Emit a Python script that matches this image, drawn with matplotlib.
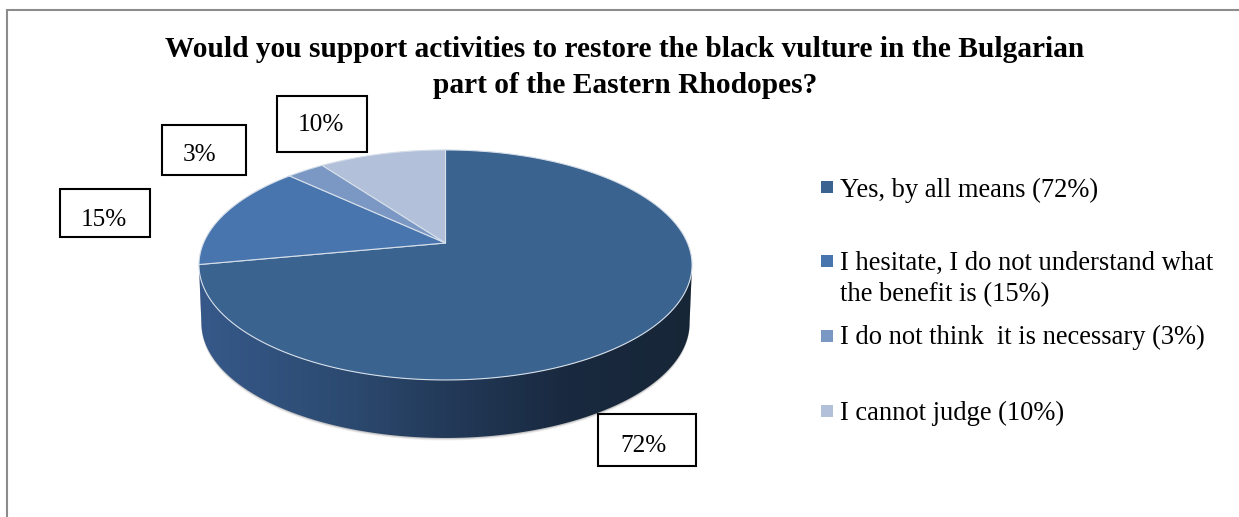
import numpy as np
import matplotlib
matplotlib.use("Agg")
import matplotlib.pyplot as plt
from matplotlib.colors import LinearSegmentedColormap
from matplotlib.patches import Polygon, Rectangle

plt.rcParams['font.family'] = ['Liberation Serif', 'DejaVu Serif']

title = ("Would you support activities to restore the black vulture in the Bulgarian\n"
         "part of the Eastern Rhodopes?")
shares = [72, 15, 3, 10]
slice_colors = ['#3A6390', '#4875AE', '#7B98C4', '#B2C1D9']
legend_labels = ["Yes, by all means (72%)",
                 "I hesitate, I do not understand what\nthe benefit is (15%)",
                 "I do not think  it is necessary (3%)",
                 "I cannot judge (10%)"]
value_labels = ["72%", "15%", "3%", "10%"]

W, H = 1239, 517
fig = plt.figure(figsize=(W / 100, H / 100), dpi=100)
ax = fig.add_axes([0, 0, 1, 1])
ax.set_xlim(0, W)
ax.set_ylim(H, 0)
ax.axis('off')

# Chart frame (open at the right and bottom edges of the canvas)
ax.plot([7, 7, W + 2], [H + 2, 10, 10], color='#8c8c8c', lw=1.5, solid_joinstyle='miter')

ax.text(625, 67.5, title, ha='center', va='center', fontsize=21.2, fontweight='bold',
        linespacing=1.44, color='black')

# Perspective tilt of the pie disc
CX, CY, R = 445.5, 243.0, 242.0
K, A = -0.191, 64.4
DEPTH = 58.0


def project(theta, dy=0.0, squeeze=1.0):
    """Map a clockwise-from-top angle on the disc to canvas coordinates."""
    v = -np.cos(theta)
    w = 1 + K * v
    return CX + squeeze * R * np.sin(theta) / w, (CY + A * v) / w + dy


def wedge(start, stop):
    t = np.linspace(start, stop, 200)
    x, y = project(t)
    return np.column_stack([np.r_[CX, x], np.r_[CY, y]])


fractions = np.cumsum([0] + shares) / sum(shares) * 2 * np.pi

# Outline of the rim's lower half, from the disc's right extreme to its left extreme
t_side = np.linspace(1.76, 4.52, 300)
tx, ty = project(t_side)
bx, by = project(t_side, dy=DEPTH, squeeze=0.99)
wall = np.column_stack([np.r_[tx, bx[::-1]], np.r_[ty, by[::-1]]])

# Soft shadow beneath the rim
for grow, alpha in zip([2.6, 1.8, 1.0], [0.10, 0.16, 0.28]):
    ax.add_patch(Polygon(np.column_stack([np.r_[tx, bx[::-1]],
                                          np.r_[ty, by[::-1] + grow]]),
                         closed=True, fc='#808080', ec='none', alpha=alpha, zorder=1))

# Rim shaded from mid blue on the left to near-black navy on the right
rim_cmap = LinearSegmentedColormap.from_list(
    'rim', [(0, '#36598A'), (0.3, '#2C4A70'), (0.5, '#233A59'),
            (0.75, '#19293F'), (1, '#172637')])
wall_patch = Polygon(wall, closed=True, fc='none', ec='none', zorder=2)
ax.add_patch(wall_patch)
img = ax.imshow(np.linspace(0, 1, 256)[None, :], cmap=rim_cmap, aspect='auto',
                extent=[199, 692, 440, 260], zorder=2)
img.set_clip_path(wall_patch)
ax.set_xlim(0, W)
ax.set_ylim(H, 0)

# Top face, one polygon per share
for i, color in enumerate(slice_colors):
    ax.add_patch(Polygon(wedge(fractions[i], fractions[i + 1]), closed=True, fc=color,
                         ec='#D5DEE9', lw=0.8, joinstyle='round', zorder=3))

# Boxed value labels
boxes = [(598, 414, 98, 52), (60, 189, 90, 48), (162, 125, 84, 50), (277, 96, 90, 56)]
text_xy = [(643, 446), (104, 220), (199, 155), (321, 125)]
for rect, pos, label in zip(boxes, text_xy, value_labels):
    ax.add_patch(Rectangle(rect[:2], rect[2], rect[3], fc='white', ec='black', lw=1.5, zorder=4))
    ax.text(pos[0], pos[1], label, ha='center', va='center', fontsize=18.2, color='black', zorder=5)

# Legend
swatch_y = [187, 261, 336, 411]
text_y = [190, 279, 337, 413]
for color, sy, ty_, label in zip(slice_colors, swatch_y, text_y, legend_labels):
    ax.add_patch(Rectangle((821, sy - 6), 12, 12, fc=color, ec='none', zorder=4))
    ax.text(840, ty_, label, ha='left', va='center', fontsize=19.1, color='black',
            linespacing=1.3, zorder=5)

fig.savefig('out.png', dpi=100)
